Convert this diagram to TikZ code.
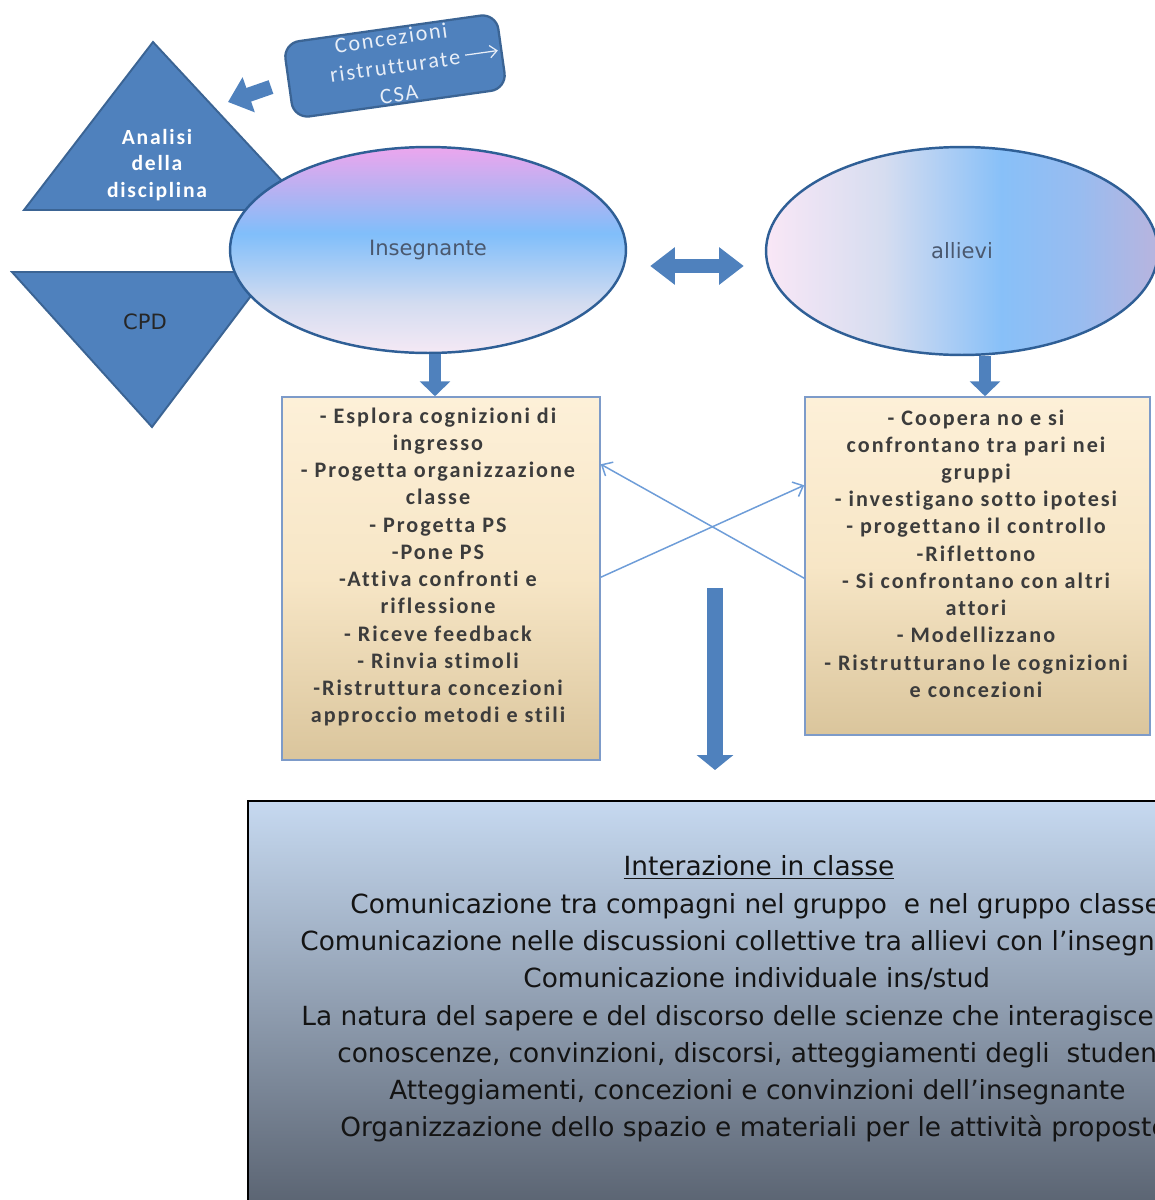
\documentclass[tikz,border=0pt]{standalone}
\usepackage{fontspec}
\usetikzlibrary{arrows.meta,calc,shapes.geometric}
\setmainfont{DejaVu Sans}
\newfontfamily\calfont[LetterSpace=9,Ligatures=NoCommon]{Carlito}
\newfontfamily\calhead[LetterSpace=8,Ligatures=NoCommon]{Carlito}
\newfontfamily\vfont{DejaVu Sans}

\definecolor{accent}{HTML}{4F81BD}
\definecolor{accentdark}{HTML}{3B6494}
\definecolor{ringblue}{HTML}{2F5F96}
\definecolor{boxedge}{HTML}{7D9BC9}
\definecolor{boxtext}{HTML}{3C3C3C}
\definecolor{labeltext}{HTML}{4A586E}
\definecolor{crossline}{HTML}{6E9DD8}
\definecolor{csawhite}{HTML}{E8EEF7}
\definecolor{creamtop}{HTML}{FDF0D8}
\definecolor{creammid}{HTML}{F7E6C6}
\definecolor{creambot}{HTML}{DAC59C}
\definecolor{paneltop}{HTML}{C6D9F0}
\definecolor{panelbot}{HTML}{58616F}

% teacher ellipse: vertical gradient, pale at the bottom, violet at the top
\definecolor{tA}{HTML}{F5E9F5}
\definecolor{tB}{HTML}{D3DCF0}
\definecolor{tC}{HTML}{80BEFA}
\definecolor{tD}{HTML}{B4B2F2}
\definecolor{tE}{HTML}{ECA6EE}
\pgfdeclareverticalshading{teachshade}{100bp}{color(0bp)=(tA); color(25bp)=(tA); color(37bp)=(tB); color(54bp)=(tC); color(64bp)=(tD); color(75bp)=(tE); color(100bp)=(tE)}

% pupils ellipse: horizontal gradient, pink on the left, blue towards the right
\definecolor{sA}{HTML}{F9E7F6}
\definecolor{sB}{HTML}{D6DDF0}
\definecolor{sC}{HTML}{88C0F8}
\definecolor{sD}{HTML}{98BCF0}
\definecolor{sE}{HTML}{B8B4DE}
\pgfdeclarehorizontalshading{pupilshade}{100bp}{color(0bp)=(sA); color(25bp)=(sA); color(40bp)=(sB); color(55bp)=(sC); color(65bp)=(sD); color(75bp)=(sE); color(100bp)=(sE)}

\begin{document}
\begin{tikzpicture}[x=0.02cm,y=-0.02cm,
  trifill/.style={fill=accent,draw=accentdark,line width=1.1pt,line join=miter},
  whitehead/.style={text=white,align=center,font=\calhead\bfseries\fontsize{12.3}{15.3}\selectfont},
  cpdtext/.style={text=black!85,font=\vfont\fontsize{12}{14}\selectfont},
  ring/.style={ellipse,draw=ringblue,line width=1.4pt,inner sep=0pt,
    text=labeltext,font=\vfont\fontsize{12}{14}\selectfont},
  notebox/.style={draw=boxedge,line width=0.9pt,top color=creamtop,bottom color=creambot,middle color=creammid,inner sep=0pt},
  notetext/.style={text=boxtext,align=center,inner sep=0pt,font=\calfont\bfseries\fontsize{12.6}{15.5}\selectfont},
  panel/.style={draw=black,line width=1.1pt,top color=paneltop,bottom color=panelbot,inner sep=0pt},
  paneltext/.style={text=black!92,inner sep=0pt,font=\vfont\fontsize{15}{18}\selectfont},
  csabox/.style={fill=accent,draw=accentdark,line width=1.3pt,rounded corners=9pt,inner sep=0pt},
  csatext/.style={text=csawhite,align=center,inner sep=0pt,font=\calhead\fontsize{12.6}{16.2}\selectfont},
  stemarrow/.style={draw=accent,line width=6.8pt,-{Triangle[length=8.5pt,width=17pt]}},
  bigarrow/.style={draw=accent,line width=9.4pt,-{Triangle[length=8.5pt,width=20.4pt]}},
  twinarrow/.style={draw=accent,line width=8.5pt,{Triangle[length=14pt,width=20.4pt]}-{Triangle[length=14pt,width=20.4pt]}},
  pointer/.style={draw=accent,line width=8.2pt,-{Triangle[length=12.5pt,width=20.4pt]}},
  crossarrow/.style={draw=crossline,line width=0.85pt,-{Straight Barb[length=5pt,width=9pt]}},
  csapointer/.style={draw=csawhite,line width=0.7pt,-{Straight Barb[length=4pt,width=7pt]}}
]
\useasboundingbox (0,0) rectangle (1155,1200);
\clip (0,0) rectangle (1155,1200);

% ---- the two triangles on the left
\draw[trifill] (24,210) -- (153,42) -- (309,210) -- cycle;
\draw[trifill] (12,272) -- (269,272) -- (152,427) -- cycle;
\node[whitehead] (analisi) at (157,165) {Analisi\\della\\disciplina};
\node[cpdtext] (cpd) at (145,322) {CPD};

% ---- tilted box with restructured conceptions
\node[csabox,rotate=8,minimum width=4.3cm,minimum height=1.52cm] (csa) at (395,66) {};
\node[csatext,rotate=8] (csat) at (csa.center) {Concezioni\\ristrutturate\\CSA};
\begin{scope}[shift={(csa.center)},rotate=8]
  \coordinate (csaa) at (71,-1);
  \coordinate (csab) at (104,-1);
\end{scope}
\draw[csapointer] (csaa) -- (csab);

% arrow from the tilted box towards the upper triangle
\coordinate (sa1) at (271,87);
\coordinate (sa2) at (228,102);
\draw[pointer] (sa1) -- (sa2);

% ---- the two actors
\node[ring,shading=teachshade,minimum width=7.92cm,minimum height=4.12cm] (ins) at (428,250) {Insegnante};
\node[ring,shading=pupilshade,minimum width=7.84cm,minimum height=4.16cm] (all) at (962,251) {allievi};

\draw[twinarrow] ($(ins.east)+(23,16)$) -- ($(all.west)+(-21,15)$);

% ---- activity boxes
\node[notebox,minimum width=6.36cm,minimum height=7.26cm] (lbox) at (441,578.5) {};
\node[notebox,minimum width=6.9cm,minimum height=6.76cm] (rbox) at (977.5,566) {};

\node[notetext] (ltext) at (438,567) {- Esplora cognizioni di\\ingresso\\- Progetta organizzazione\\classe\\- Progetta PS\\-Pone PS\\-Attiva confronti e\\riflessione\\- Riceve feedback\\- Rinvia stimoli\\-Ristruttura concezioni\\approccio metodi e stili};
\node[notetext] (rtext) at (976,553.5) {- Coopera no e si\\confrontano tra pari nei\\gruppi\\- investigano sotto ipotesi\\- progettano il controllo\\-Riflettono\\- Si confrontano con altri\\attori\\- Modellizzano\\- Ristrutturano le cognizioni\\e concezioni};

\coordinate (xa) at (435,0);
\coordinate (xb) at (985,0);
\draw[stemarrow] (ins.south -| xa) -- (lbox.north -| xa);
\draw[stemarrow] (all.south -| xb) -- (rbox.north -| xb);

% crossing exchanges between the two boxes
\draw[crossarrow] ($(lbox.north east)+(0,181)$) -- ($(rbox.north west)+(0,89)$);
\draw[crossarrow] ($(rbox.north west)+(0,182)$) -- ($(lbox.north east)+(0,68)$);

% ---- classroom interaction panel
\coordinate (dtop) at (715,588);
\coordinate (dtip) at (715,770);
\draw[bigarrow] (dtop) -- (dtip);

\node[panel,minimum width=20.44cm,minimum height=8.28cm] (panel) at (759,1008) {};
\node[paneltext,anchor=mid] (p0) at (759,871) {\underline{Interazione in classe}};
\node[paneltext,anchor=mid west] (p1) at (350,909) {Comunicazione tra compagni nel gruppo\ \ e nel gruppo classe};
\node[paneltext,anchor=mid west] (p2) at (300,946) {Comunicazione nelle discussioni collettive tra allievi con l’insegnante};
\node[paneltext,anchor=mid west] (p3) at (523,983) {Comunicazione individuale ins/stud};
\node[paneltext,anchor=mid west] (p4) at (301,1021) {La natura del sapere e del discorso delle scienze che interagisce};
\node[paneltext,anchor=mid west] (p5) at (337,1058) {conoscenze, convinzioni, discorsi, atteggiamenti degli\ \ studenti};
\node[paneltext,anchor=mid west] (p6) at (389,1095) {Atteggiamenti, concezioni e convinzioni dell’insegnante};
\node[paneltext,anchor=mid west] (p7) at (340,1132) {Organizzazione dello spazio e materiali per le attività proposte};
\end{tikzpicture}
\end{document}
